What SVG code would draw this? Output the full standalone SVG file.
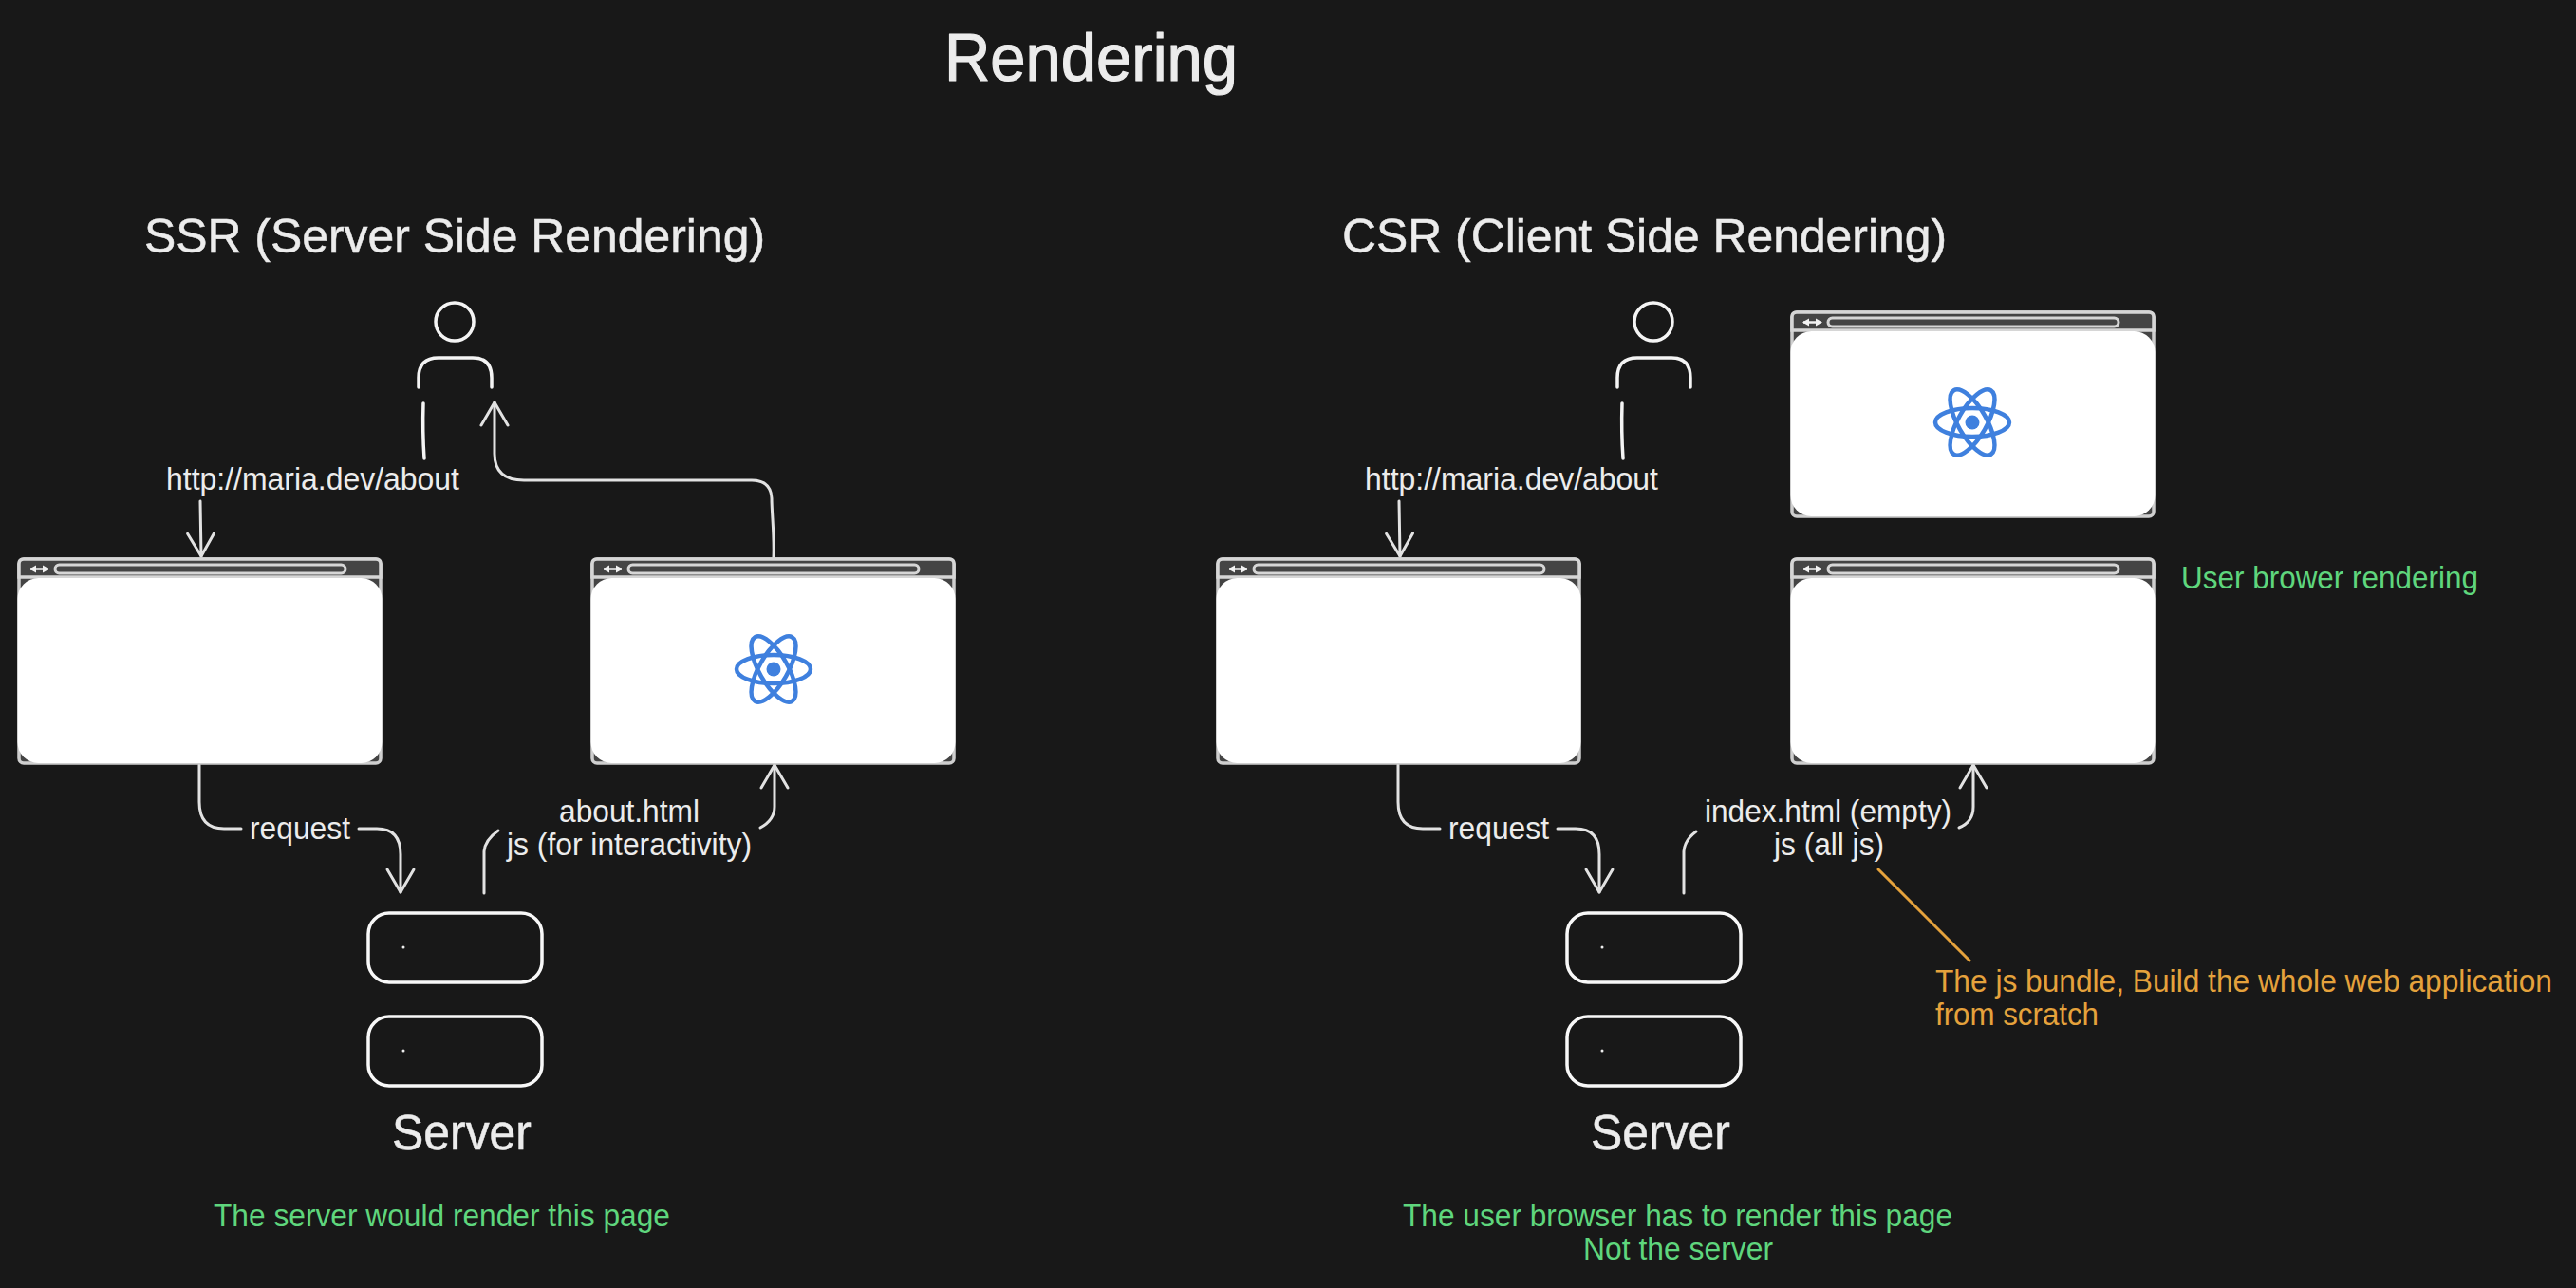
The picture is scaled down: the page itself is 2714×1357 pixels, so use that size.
<svg xmlns="http://www.w3.org/2000/svg" xmlns:xlink="http://www.w3.org/1999/xlink" width="2714" height="1357" viewBox="0 0 2714 1357">
<style>
text{font-family:"Liberation Sans",Arial,sans-serif;fill:#ececec}
.t1{font-size:71px;stroke:#ececec;stroke-width:1.2px;stroke-linejoin:round}
.t2{font-size:50px;stroke:#ececec;stroke-width:.5px}
.t3{font-size:51px;stroke:#ececec;stroke-width:.5px}
.lb{font-size:33px}
.gr{font-size:33px;fill:#5fd67d}
.or{font-size:34px;fill:#e5a23c}
.cn{fill:none;stroke:#e2e2e2;stroke-width:3;stroke-linecap:round;stroke-linejoin:round}
.ou{fill:none;stroke:#f4f4f4;stroke-width:3.5;stroke-linecap:round;stroke-linejoin:round}
.sv{fill:none;stroke:#f8f8f8;stroke-width:3.5}
.frame{fill:#444;stroke:#cfcfcf;stroke-width:3.5}
.bar{fill:#444;stroke:#d6d6d6;stroke-width:3.5}
.rc{fill:none;stroke:#3f80de;stroke-width:4.5}
</style>
<defs>
<marker id="head" markerUnits="userSpaceOnUse" markerWidth="40" markerHeight="40" refX="30" refY="20" orient="auto" viewBox="0 0 40 40">
<path d="M6,6 L30,20 L6,34" fill="none" stroke="#e2e2e2" stroke-width="3" stroke-linecap="round" stroke-linejoin="round"/>
</marker>
<g id="browser">
<rect class="frame" x="0" y="0" width="381" height="215" rx="5"/>
<path class="bar" d="M0,19 V5 Q0,0 5,0 H376 Q381,0 381,5 V19 Z"/>
<rect x="38" y="6" width="306" height="9" rx="4.500" fill="#444" stroke="#d6d6d6" stroke-width="3"/>
<path d="M12,10.500 H31" fill="none" stroke="#f2f2f2" stroke-width="2.500"/>
<path d="M11,10.500 L18,6.500 V14.500 Z M32,10.500 L25,6.500 V14.500 Z" fill="#f2f2f2"/>
<rect x="-1.500" y="20" width="384" height="195" rx="22" fill="#fff"/>
</g>
<g id="react">
<ellipse class="rc" rx="39" ry="15"/>
<ellipse class="rc" rx="39" ry="15" transform="rotate(60)"/>
<ellipse class="rc" rx="39" ry="15" transform="rotate(-60)"/>
<circle r="7.500" fill="#3f80de"/>
</g>
<g id="person">
<ellipse class="ou" cx="479" cy="339" rx="20" ry="20"/>
<path class="ou" d="M441,408 V398 Q441,377 462,377 H498 Q518,377 518,398 V408"/>
<path class="ou" d="M446,425 Q445,455 447,483"/>
</g>
<g id="server">
<rect class="sv" x="388" y="962" width="183" height="73" rx="22"/>
<rect class="sv" x="388" y="1071" width="183" height="73" rx="22"/>
<circle cx="425" cy="998" r="1.500" fill="#eee"/>
<circle cx="425" cy="1107" r="1.500" fill="#eee"/>
</g>
</defs>
<rect width="2714" height="1357" fill="#181818"/>

<g id="title"><text class="t1" x="995" y="85" textLength="309" lengthAdjust="spacingAndGlyphs">Rendering</text></g>
<g id="ssr-heading"><text class="t2" x="152" y="266" textLength="654" lengthAdjust="spacingAndGlyphs">SSR (Server Side Rendering)</text></g>
<g id="csr-heading"><text class="t2" x="1414" y="266" textLength="637" lengthAdjust="spacingAndGlyphs">CSR (Client Side Rendering)</text></g>

<g id="connectors">
<path id="ssr-url" class="cn" marker-end="url(#head)" d="M211,528 L212,586"/>
<path id="ssr-back" class="cn" marker-end="url(#head)" d="M815,587 C816,565 813,540 813,525 Q812,506 792,506 H552 Q521,506 521,478 V424"/>
<path id="ssr-req-a" class="cn" d="M210,806 V845 Q210,873 236,873 H254"/>
<path id="ssr-req-b" class="cn" marker-end="url(#head)" d="M378,873 H397 Q422,873 422,900 V940"/>
<path id="ssr-res-a" class="cn" d="M510,941 V897 Q511,885 525,875"/>
<path id="ssr-res-b" class="cn" marker-end="url(#head)" d="M801,872 Q816,864 816,850 V806"/>
<path id="csr-url" class="cn" marker-end="url(#head)" d="M1474,528 L1475,586"/>
<path id="csr-req-a" class="cn" d="M1473,806 V845 Q1473,873 1499,873 H1517"/>
<path id="csr-req-b" class="cn" marker-end="url(#head)" d="M1641,873 H1660 Q1685,873 1685,900 V940"/>
<path id="csr-res-a" class="cn" d="M1774,941 V897 Q1775,885 1787,876"/>
<path id="csr-res-b" class="cn" marker-end="url(#head)" d="M2064,872 Q2079,866 2079,850 V806"/>
<path id="csr-note" fill="none" stroke="#e5a23c" stroke-width="3" stroke-linecap="round" d="M1979,916 L2075,1012"/>
</g>

<g id="ssr-user"><use href="#person"/></g>
<g id="csr-user"><use href="#person" x="1263"/></g>
<g id="ssr-browser-left"><use href="#browser" x="20" y="589"/></g>
<g id="ssr-browser-right"><use href="#browser" x="624" y="589"/><use href="#react" x="815" y="705"/></g>
<g id="csr-browser-left"><use href="#browser" x="1283" y="589"/></g>
<g id="csr-browser-right"><use href="#browser" x="1888" y="589"/></g>
<g id="csr-browser-top"><use href="#browser" x="1888" y="329"/><use href="#react" x="2078" y="445"/></g>
<g id="ssr-server"><use href="#server"/><text class="t3" x="413" y="1211" textLength="147" lengthAdjust="spacingAndGlyphs">Server</text></g>
<g id="csr-server"><use href="#server" x="1263"/><text class="t3" x="1676" y="1211" textLength="147" lengthAdjust="spacingAndGlyphs">Server</text></g>

<g id="labels">
<text class="lb" x="175" y="516" textLength="309" lengthAdjust="spacingAndGlyphs">http://maria.dev/about</text>
<text class="lb" x="1438" y="516" textLength="309" lengthAdjust="spacingAndGlyphs">http://maria.dev/about</text>
<text class="lb" x="263" y="884" textLength="106" lengthAdjust="spacingAndGlyphs">request</text>
<text class="lb" x="1526" y="884" textLength="106" lengthAdjust="spacingAndGlyphs">request</text>
<text class="lb" x="589" y="866" textLength="148" lengthAdjust="spacingAndGlyphs">about.html</text>
<text class="lb" x="534" y="901" textLength="258" lengthAdjust="spacingAndGlyphs">js (for interactivity)</text>
<text class="lb" x="1796" y="866" textLength="260" lengthAdjust="spacingAndGlyphs">index.html (empty)</text>
<text class="lb" x="1869" y="901" textLength="116" lengthAdjust="spacingAndGlyphs">js (all js)</text>
<text class="gr" x="225" y="1292" textLength="481" lengthAdjust="spacingAndGlyphs">The server would render this page</text>
<text class="gr" x="1478" y="1292" textLength="579" lengthAdjust="spacingAndGlyphs">The user browser has to render this page</text>
<text class="gr" x="1668" y="1327" textLength="200" lengthAdjust="spacingAndGlyphs">Not the server</text>
<text class="gr" x="2298" y="620" textLength="313" lengthAdjust="spacingAndGlyphs">User brower rendering</text>
<text class="or" x="2039" y="1045" textLength="650" lengthAdjust="spacingAndGlyphs">The js bundle, Build the whole web application</text>
<text class="or" x="2039" y="1080" textLength="172" lengthAdjust="spacingAndGlyphs">from scratch</text>
</g>
</svg>
